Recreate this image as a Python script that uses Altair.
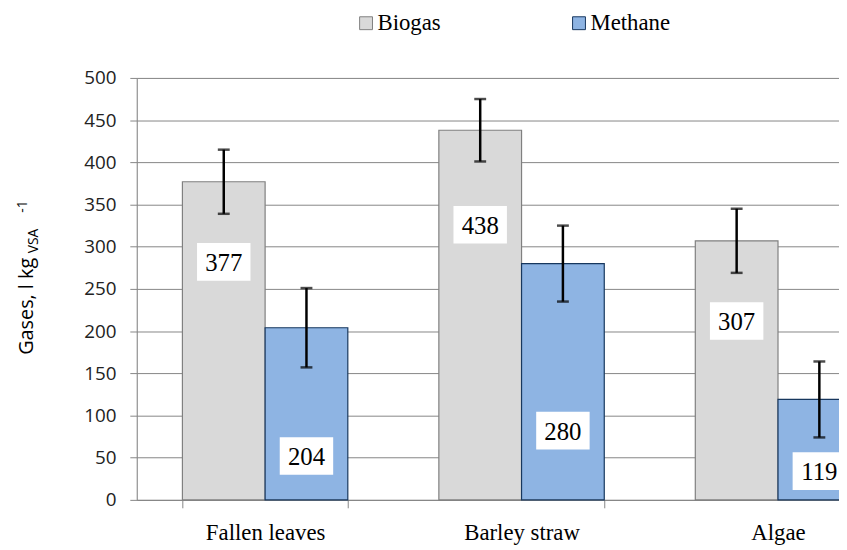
import altair as alt
import pandas as pd

categories = ["Fallen leaves", "Barley straw", "Algae"]
series = ["Biogas", "Methane"]
biogas = [377, 438, 307]
methane = [204, 280, 119]
biogas_err = [38, 37, 38]
methane_err = [47, 45, 45]
# where the white value boxes sit (in data units)
biogas_label_at = [282, 326, 212]
methane_label_at = [52, 82, 34]
y_ticks = [0, 50, 100, 150, 200, 250, 300, 350, 400, 450, 500]

fills = ["#d9d9d9", "#8eb4e3"]
strokes = ["#808080", "#17375e"]

rows = []
for i, c in enumerate(categories):
    rows.append(dict(category=c, series="Biogas", value=biogas[i],
                     low=biogas[i] - biogas_err[i], high=biogas[i] + biogas_err[i],
                     label_at=biogas_label_at[i]))
    rows.append(dict(category=c, series="Methane", value=methane[i],
                     low=methane[i] - methane_err[i], high=methane[i] + methane_err[i],
                     label_at=methane_label_at[i]))
df = pd.DataFrame(rows)

GRID = "#868686"

x_enc = alt.X(
    "category:N", sort=categories,
    scale=alt.Scale(range=[0, 777], paddingInner=0.355, paddingOuter=0.178),
    axis=alt.Axis(title=None, tickBand="extent", labelAngle=0,
                  labelFont="Liberation Serif", labelFontSize=23, labelColor="black",
                  labelBaseline="middle", labelPadding=25, tickSize=8,
                  tickColor=GRID, domainColor=GRID, grid=False),
)
xo_enc = alt.XOffset("series:N", sort=series,
                     scale=alt.Scale(paddingInner=0, paddingOuter=0))

y_axis = alt.Axis(
    values=y_ticks, title="Gases, l kg",
    titleFont="Open Sans", titleFontSize=20, titleFontWeight="normal",
    titleColor="black", titleAngle=270, titleAlign="left",
    titleBaseline="alphabetic", titleX=-105, titleY=279,
    labelFont="Open Sans", labelFontSize=19, labelColor="#222222",
    labelPadding=14, tickSize=7, tickColor=GRID, domainColor=GRID,
    grid=True, gridColor=GRID, gridWidth=1,
)
y_scale = alt.Scale(domain=[0, 500])

legend = alt.Legend(
    title=None, orient="none", legendX=220, legendY=-67, direction="horizontal",
    symbolType="square", symbolSize=169, symbolStrokeWidth=1,
    labelFont="Liberation Serif", labelFontSize=23, labelColor="black",
    labelOffset=0, columnPadding=128, padding=0,
)

base = alt.Chart(df)

bars = base.mark_bar(strokeWidth=1.2).encode(
    x=x_enc, xOffset=xo_enc,
    y=alt.Y("value:Q", scale=y_scale, axis=y_axis),
    color=alt.Color("series:N", sort=series,
                    scale=alt.Scale(domain=series, range=fills), legend=legend),
    stroke=alt.Stroke("series:N", sort=series,
                      scale=alt.Scale(domain=series, range=strokes), legend=legend),
)

err = base.mark_rule(color="black", strokeWidth=2.5).encode(
    x=x_enc, xOffset=xo_enc,
    y=alt.Y("low:Q", scale=y_scale), y2="high:Q",
)
cap_hi = base.mark_tick(color="black", thickness=2.5, size=12, orient="horizontal").encode(
    x=x_enc, xOffset=xo_enc, y=alt.Y("high:Q", scale=y_scale),
)
cap_lo = base.mark_tick(color="black", thickness=2.5, size=12, orient="horizontal").encode(
    x=x_enc, xOffset=xo_enc, y=alt.Y("low:Q", scale=y_scale),
)

boxes = base.mark_point(shape="M-1.42,-1H1.42V1H-1.42Z", size=1444, filled=True,
                        color="white", opacity=1, strokeWidth=0).encode(
    x=x_enc, xOffset=xo_enc, y=alt.Y("label_at:Q", scale=y_scale),
)
texts = base.mark_text(font="Liberation Serif", fontSize=25, color="black",
                       baseline="middle", dy=1).encode(
    x=x_enc, xOffset=xo_enc, y=alt.Y("label_at:Q", scale=y_scale),
    text="value:Q",
)

one = alt.Data(values=[{}])
sub = alt.Chart(one).mark_text(angle=270, align="left", baseline="alphabetic",
                               font="Open Sans", fontSize=14, color="black").encode(
    x=alt.value(-100), y=alt.value(177), text=alt.value("VSA"))
sup = alt.Chart(one).mark_text(angle=270, align="left", baseline="alphabetic",
                               font="Open Sans", fontSize=14, color="black").encode(
    x=alt.value(-111), y=alt.value(136), text=alt.value("-1"))

chart = alt.layer(bars, err, cap_hi, cap_lo, boxes, texts, sub, sup).properties(
    width=709, height=426,
    autosize=alt.AutoSizeParams(type="none"),
    padding={"left": 130, "top": 68, "right": 0, "bottom": 48},
).configure_view(stroke=None).configure(background="white")

chart.save("out.html", embed_options={"renderer": "svg", "actions": False})
